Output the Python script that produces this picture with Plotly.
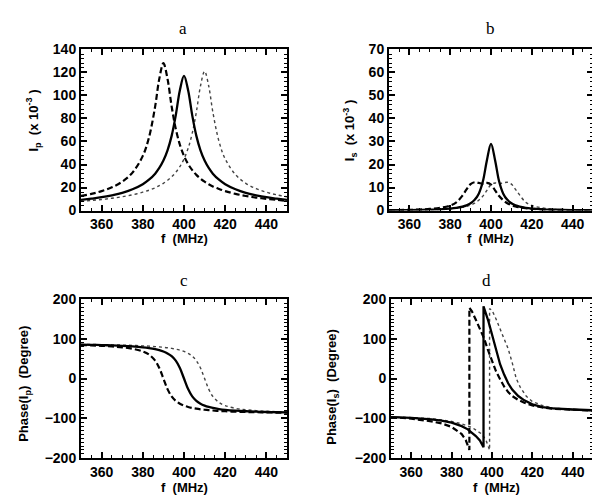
import plotly.graph_objects as go

# ---------------- data ----------------
freq = [350, 355, 360, 365, 370, 375, 380, 383, 386, 388, 390, 392, 394, 396, 398,
        400, 402, 404, 406, 408, 410, 412, 414, 417, 420, 425, 430, 435, 440, 445, 450]

# panel a : |Ip| (x 1e-3)
ip_solid = [9.3, 10.4, 11.6, 13.3, 15.4, 18.5, 22.9, 26.8, 32.1, 37.0, 43.4, 52.3, 64.9, 82.7, 104.6,
            117.0, 104.6, 82.7, 64.9, 52.3, 43.4, 37.0, 32.1, 26.8, 22.9, 18.5, 15.4, 13.3, 11.6, 10.4, 9.3]
ip_dashed = [12.7, 14.5, 16.9, 20.2, 25.1, 33.0, 47.5, 63.5, 90.5, 114.4, 128.0, 114.4, 90.5, 71.0, 57.2,
             47.5, 40.4, 35.2, 31.0, 27.8, 25.1, 22.9, 21.0, 18.8, 16.9, 14.5, 12.7, 11.3, 10.2, 9.3, 8.5]
ip_dotted = [8.0, 8.8, 9.6, 10.7, 12.0, 13.7, 16.0, 17.7, 19.8, 21.7, 23.7, 26.3, 29.3, 33.2, 38.2,
             44.9, 54.1, 67.2, 85.6, 108.2, 121.0, 108.2, 85.6, 60.0, 44.9, 31.2, 23.7, 19.1, 16.0, 13.7, 12.0]

# panel b : |Is| (x 1e-3)
is_solid = [0.14, 0.17, 0.22, 0.29, 0.39, 0.56, 0.86, 1.18, 1.71, 2.27, 3.17, 4.66, 7.36, 12.6, 21.9,
            29.0, 21.9, 12.6, 7.36, 4.66, 3.17, 2.27, 1.71, 1.18, 0.86, 0.56, 0.39, 0.29, 0.22, 0.17, 0.14]
is_dashed = [0.2, 0.25, 0.3, 0.45, 0.7, 1.2, 2.2, 3.6, 6.5, 9.2, 11.5, 12.3, 12.0, 11.7, 12.0,
             11.3, 8.8, 6.3, 4.5, 3.2, 2.4, 1.8, 1.4, 1.0, 0.75, 0.5, 0.35, 0.28, 0.22, 0.18, 0.15]
is_dotted = [0.12, 0.15, 0.2, 0.26, 0.35, 0.5, 0.8, 1.0, 1.4, 1.8, 2.4, 3.2, 4.5, 6.3, 8.8,
             11.3, 12.0, 11.7, 12.0, 12.3, 11.5, 9.2, 6.8, 3.6, 2.2, 1.2, 0.7, 0.45, 0.3, 0.25, 0.2]

# panel c : phase(Ip) in degrees
php_solid = [85.4, 84.9, 84.3, 83.5, 82.4, 80.9, 78.7, 76.8, 74.1, 71.6, 68.2, 63.4, 56.3, 45.0, 26.6,
             0.0, -26.6, -45.0, -56.3, -63.4, -68.2, -71.6, -74.1, -76.8, -78.7, -80.9, -82.4, -83.5, -84.3, -84.9, -85.4]
php_dashed = [84.3, 83.5, 82.4, 80.9, 78.7, 75.1, 68.2, 60.3, 45.0, 26.6, 0.0, -26.6, -45.0, -56.3, -63.4,
              -68.2, -71.6, -74.1, -76.0, -77.5, -78.7, -79.7, -80.5, -81.6, -82.4, -83.5, -84.3, -84.9, -85.4, -85.8, -86.2]
php_dotted = [86.2, 85.8, 85.4, 84.9, 84.3, 83.5, 82.4, 81.6, 80.5, 79.7, 78.7, 77.5, 76.0, 74.1, 71.6,
              68.2, 63.4, 56.3, 45.0, 26.6, 0.0, -26.6, -45.0, -60.3, -68.2, -75.1, -78.7, -80.9, -82.4, -83.5, -84.3]

# panel d : phase(Is) in degrees (each curve wraps from -180 to +180)
fd_solid = [350, 360, 370, 375, 380, 385, 388, 390, 392, 394, 395.2, 395.8, 395.8, 397, 398, 399, 400,
            401, 402, 403, 404, 406, 408, 410, 413, 416, 420, 425, 430, 440, 450]
phs_solid = [-97, -99, -103, -106, -111, -120, -128, -136, -145, -156, -166, -173, 182, 165, 148, 130, 110,
             90, 70, 52, 36, 10, -12, -28, -44, -55, -65, -72, -75, -78, -80]
fd_dashed = [350, 360, 370, 375, 380, 383, 385, 387, 388.3, 388.8, 388.8, 390, 392, 394, 396, 398, 400,
             402, 404, 406, 408, 410, 413, 416, 420, 425, 430, 440, 450]
phs_dashed = [-97, -101, -108, -113, -122, -132, -140, -155, -170, -180, 178, 170, 148, 126, 102, 72, 44,
              18, -2, -20, -34, -44, -54, -61, -68, -73, -76, -79, -81]
fd_dotted = [350, 360, 370, 380, 385, 390, 393, 395, 397, 398.2, 398.8, 398.8, 400, 402, 404, 406, 408,
             410, 412, 414, 417, 420, 425, 430, 440, 450]
phs_dotted = [-96, -98, -101, -108, -114, -123, -132, -140, -155, -170, -180, 176, 172, 150, 125, 100, 75,
              40, 0, -22, -45, -58, -68, -74, -79, -81]

# ---------------- figure ----------------
W, H = 600, 501
SOLID = dict(color="black", width=2.3)
DASHED = dict(color="black", width=2.2, dash="6px,3px")
DOTTED = dict(color="#444444", width=1.4, dash="dot")

fig = go.Figure()

def add(x, y, line, ax, shape="spline"):
    fig.add_trace(go.Scatter(x=x, y=y, mode="lines", line=dict(**line, shape=shape),
                             xaxis="x" + ax, yaxis="y" + ax, showlegend=False,
                             hoverinfo="skip"))

add(freq, ip_dashed, DASHED, "")
add(freq, ip_dotted, DOTTED, "")
add(freq, ip_solid, SOLID, "")
add(freq, is_dashed, DASHED, "2")
add(freq, is_dotted, DOTTED, "2")
add(freq, is_solid, SOLID, "2")
add(freq, php_dashed, DASHED, "3")
add(freq, php_dotted, DOTTED, "3")
add(freq, php_solid, SOLID, "3")
add(fd_dashed, phs_dashed, DASHED, "4", "linear")
add(fd_dotted, phs_dotted, DOTTED, "4", "linear")
add(fd_solid, phs_solid, SOLID, "4", "linear")

SANS = "Liberation Sans, Arial, sans-serif"
TICKFONT = dict(family=SANS, size=14, color="black", weight="bold")

def px_dom_x(a, b):
    return [a / W, b / W]

def px_dom_y(top, bottom):
    return [1 - bottom / H, 1 - top / H]

def xaxis(dom, anchor):
    return dict(domain=dom, anchor=anchor, range=[350, 450], tick0=360, dtick=20,
                showline=True, linecolor="black", linewidth=2, mirror="allticks",
                ticks="inside", ticklen=6, tickwidth=1.5, tickcolor="black",
                showgrid=False, zeroline=False, tickfont=TICKFONT,
                minor=dict(ticks="inside", ticklen=3, tickwidth=1, tickcolor="black",
                           tick0=350, dtick=5, showgrid=False))

def yaxis(dom, anchor, rng, dtick, mdtick):
    return dict(domain=dom, anchor=anchor, range=rng, tick0=rng[0], dtick=dtick,
                showline=True, linecolor="black", linewidth=2, mirror="allticks",
                ticks="inside", ticklen=6, tickwidth=1.5, tickcolor="black",
                showgrid=False, zeroline=False, tickfont=TICKFONT,
                minor=dict(ticks="inside", ticklen=3, tickwidth=1, tickcolor="black",
                           tick0=rng[0], dtick=mdtick, showgrid=False))

dxa = px_dom_x(73, 279)
dxb = px_dom_x(381, 585)
dxc = px_dom_x(73, 279)
dxd = px_dom_x(383, 585)
dyt = px_dom_y(34.5, 201)
dyb = px_dom_y(292.5, 456.5)

fig.update_layout(
    width=W, height=H, margin=dict(l=0, r=0, t=0, b=0),
    paper_bgcolor="white", plot_bgcolor="white",
    xaxis=xaxis(dxa, "y"), yaxis=yaxis(dyt, "x", [0, 140], 20, 4),
    xaxis2=xaxis(dxb, "y2"), yaxis2=yaxis(dyt, "x2", [0, 70], 10, 2),
    xaxis3=xaxis(dxc, "y3"), yaxis3=yaxis(dyb, "x3", [-200, 200], 100, 10),
    xaxis4=xaxis(dxd, "y4"), yaxis4=yaxis(dyb, "x4", [-200, 200], 100, 10),
)

SERIF = dict(family="Liberation Serif, Times New Roman, serif", size=17, color="black")
LAB = dict(family=SANS, size=13, color="black", weight="bold")

def ann(text, x, y, font, angle=0):
    fig.add_annotation(text=text, x=x / W, y=1 - y / H, xref="paper", yref="paper",
                       showarrow=False, xanchor="center", yanchor="middle",
                       textangle=angle, font=font)

ann("a", 175, 13, SERIF)
ann("b", 482, 13, SERIF)
ann("c", 176, 273, SERIF)
ann("d", 478, 273, SERIF)

ann("f  (MHz)", 176, 230, LAB)
ann("f  (MHz)", 482, 230, LAB)
ann("f  (MHz)", 176, 487, LAB)
ann("f  (MHz)", 488, 487, LAB)

ann("I<sub>p</sub>  (x 10<sup>-3</sup> )", 25, 108, LAB, -90)
ann("I<sub>s</sub>  (x 10<sup>-3</sup> )", 342, 118, LAB, -90)
ann("Phase(I<sub>p</sub>)  (Degree)", 17, 380, LAB, -90)
ann("Phase(I<sub>s</sub>)  (Degree)", 325, 383, LAB, -90)

fig.write_html("out.html")
